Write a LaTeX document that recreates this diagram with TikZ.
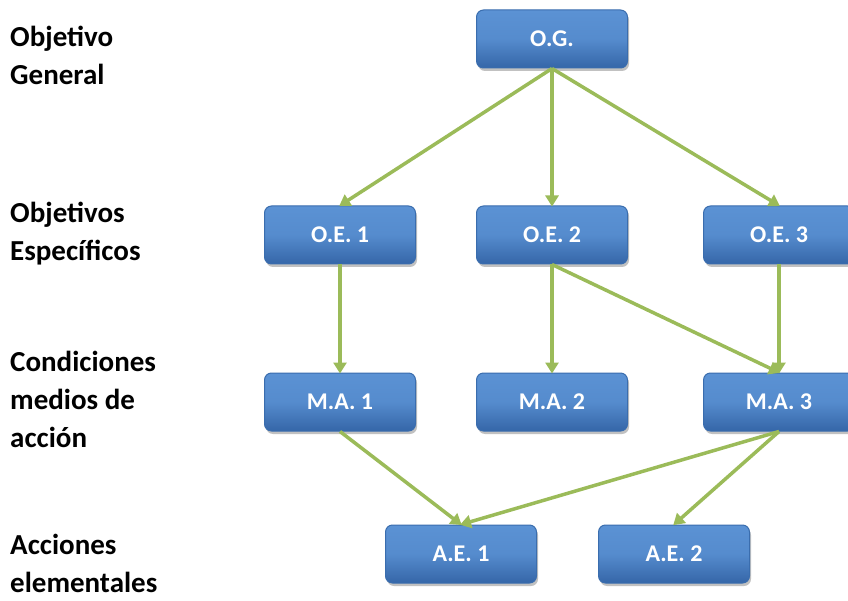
\documentclass[tikz,border=0pt]{standalone}
\usepackage{fontspec}
\setmainfont{Carlito}
\usetikzlibrary{arrows.meta,shadows}
\definecolor{boxtop}{HTML}{5B92D4}
\definecolor{boxbot}{HTML}{3566A8}
\definecolor{boxedge}{HTML}{3A6DAE}
\definecolor{linkgreen}{HTML}{9BBB59}
\tikzset{
  box/.style={draw=boxedge, line width=1pt, rounded corners=7pt,
    top color=boxtop, bottom color=boxbot, middle color=boxtop!85!boxbot,
    minimum width=151pt, minimum height=58pt, inner sep=0pt,
    text=white, font=\bfseries\fontsize{24}{28}\selectfont,
    drop shadow={shadow xshift=1.5pt, shadow yshift=-3pt, opacity=0.35, fill=black!70}},
  link/.style={draw=linkgreen, line width=3.5pt,
    -{Triangle[length=11pt,width=13pt]}, shorten >=-1pt},
  levellabel/.style={anchor=north west, align=left, inner sep=0pt,
    font=\bfseries\fontsize{29}{38}\selectfont}
}
\begin{document}
\begin{tikzpicture}[x=1pt,y=-1pt]
\useasboundingbox (0,0) rectangle (848,601);
\clip (0,0) rectangle (848,601);

% level captions
\node[levellabel] (lg) at (10,26) {Objetivo\\General};
\node[levellabel] (le) at (10,202) {Objetivos\\Específicos};
\node[levellabel] (lc) at (10,351) {Condiciones\\medios de\\acción};
\node[levellabel] (la) at (10,534) {Acciones\\elementales};

% boxes
\node[box] (og) at (552,39) {O.G.};
\node[box] (oe1) at (340,235) {O.E. 1};
\node[box] (oe2) at (552,235) {O.E. 2};
\node[box] (oe3) at (779,235) {O.E. 3};
\node[box] (ma1) at (340,402) {M.A. 1};
\node[box] (ma2) at (552,402) {M.A. 2};
\node[box] (ma3) at (779,402) {M.A. 3};
\node[box] (ae1) at (461,554) {A.E. 1};
\node[box] (ae2) at (674,554) {A.E. 2};

% links
\draw[link] (og.south) -- (oe1.north);
\draw[link] (og.south) -- (oe2.north);
\draw[link] (og.south) -- (oe3.north);
\draw[link] (oe1.south) -- (ma1.north);
\draw[link] (oe2.south) -- (ma2.north);
\draw[link] (oe2.south) -- (ma3.north);
\draw[link] (oe3.south) -- (ma3.north);
\draw[link] (ma1.south) -- (ae1.north);
\draw[link] (ma3.south) -- (ae1.north);
\draw[link] (ma3.south) -- (ae2.north);
\end{tikzpicture}
\end{document}
